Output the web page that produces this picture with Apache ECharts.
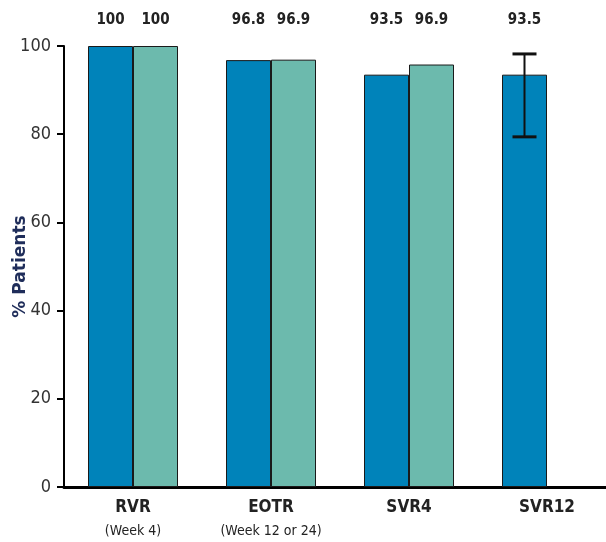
<!DOCTYPE html>
<html><head><meta charset="utf-8">
<script src="https://cdn.jsdelivr.net/npm/echarts@6/dist/echarts.min.js"></script>
<style>html,body{margin:0;padding:0;background:#fff}#c{width:606px;height:542px}</style>
</head><body><div id="c"></div>
<script>
var categories = ['RVR', 'EOTR', 'SVR4', 'SVR12'];
var subLabels = ['(Week 4)', '(Week 12 or 24)', '', ''];
var seriesA = [100, 96.8, 93.5, 93.5];
var seriesB = [100, 96.9, 95.8, null];
var labelsA = ['100', '96.8', '93.5', '93.5'];
var labelsB = ['100', '96.9', '96.9', ''];
var errLow = [null, null, null, 79.4];
var errHigh = [null, null, null, 98.2];
var yTicks = [0, 20, 40, 60, 80, 100];

var BW = 45;
var FONT = "'Liberation Sans Narrow', 'DejaVu Sans Condensed', sans-serif";

var chart = echarts.init(document.getElementById('c'));

var labelData = [];
categories.forEach(function (c, i) {
  labelData.push([i, 0, labelsA[i]]);
  labelData.push([i, 1, labelsB[i]]);
});
var errData = [];
categories.forEach(function (c, i) {
  if (errLow[i] != null) errData.push([i, errLow[i], errHigh[i]]);
});

chart.setOption({
  animation: false,
  grid: { left: 64, top: 46, height: 441, width: 552, outerBoundsMode: 'none', containLabel: false },
  xAxis: {
    type: 'category',
    data: categories,
    axisLine: { lineStyle: { color: '#000', width: 3 } },
    axisTick: { show: false },
    axisLabel: {
      margin: 8,
      interval: 0,
      hideOverlap: false,
      formatter: function (v, i) {
        return '{a|' + v + '}\n{b|' + subLabels[i] + '}';
      },
      rich: {
        a: { fontFamily: FONT, fontWeight: 'bold', fontSize: 17, color: '#222', lineHeight: 26 },
        b: { fontFamily: FONT, fontSize: 14, color: '#222', lineHeight: 20 }
      }
    }
  },
  yAxis: {
    type: 'value',
    min: 0, max: 100, interval: 20,
    name: '% Patients',
    nameLocation: 'middle',
    nameGap: 35,
    nameMoveOverlap: false,
    nameTextStyle: { fontFamily: "'DejaVu Sans', sans-serif", fontWeight: 'bold', fontSize: 17, color: '#1F2D5A' },
    axisLine: { show: true, lineStyle: { color: '#000', width: 2 } },
    axisTick: { show: true, length: 7, lineStyle: { color: '#000', width: 2 } },
    axisLabel: { margin: 13, fontFamily: FONT, fontSize: 18, color: '#333',
      formatter: function (v) { return yTicks.indexOf(v) >= 0 ? String(v) : ''; } },
    splitLine: { show: false }
  },
  series: [
    { type: 'bar', data: seriesA, barWidth: BW, barGap: '0%',
      itemStyle: { color: '#0083BA', borderColor: '#1a1a1a', borderWidth: 1 } },
    { type: 'bar', data: seriesB, barWidth: BW, barGap: '0%',
      itemStyle: { color: '#6CBAAD', borderColor: '#1a1a1a', borderWidth: 1 } },
    { type: 'custom', data: labelData, clip: false, z: 10,
      renderItem: function (params, api) {
        var p = api.coord([api.value(0), 100]);
        var off = api.value(1) === 0 ? -BW / 2 : BW / 2;
        return { type: 'text', style: { text: labelData[params.dataIndex][2], x: p[0] + off, y: p[1] - 26,
          align: 'center', verticalAlign: 'middle', font: 'bold 15px ' + FONT, fill: '#222' } };
      } },
    { type: 'custom', data: errData, clip: false, z: 11,
      renderItem: function (params, api) {
        var lo = api.coord([api.value(0), api.value(1)]);
        var hi = api.coord([api.value(0), api.value(2)]);
        var x = lo[0] - BW / 2;
        var cw = 12;
        return { type: 'group', children: [
          { type: 'line', shape: { x1: x, y1: lo[1], x2: x, y2: hi[1] }, style: { stroke: '#111', lineWidth: 2 } },
          { type: 'line', shape: { x1: x - cw, y1: lo[1], x2: x + cw, y2: lo[1] }, style: { stroke: '#111', lineWidth: 3 } },
          { type: 'line', shape: { x1: x - cw, y1: hi[1], x2: x + cw, y2: hi[1] }, style: { stroke: '#111', lineWidth: 3 } }
        ] };
      } }
  ]
});
</script></body></html>
